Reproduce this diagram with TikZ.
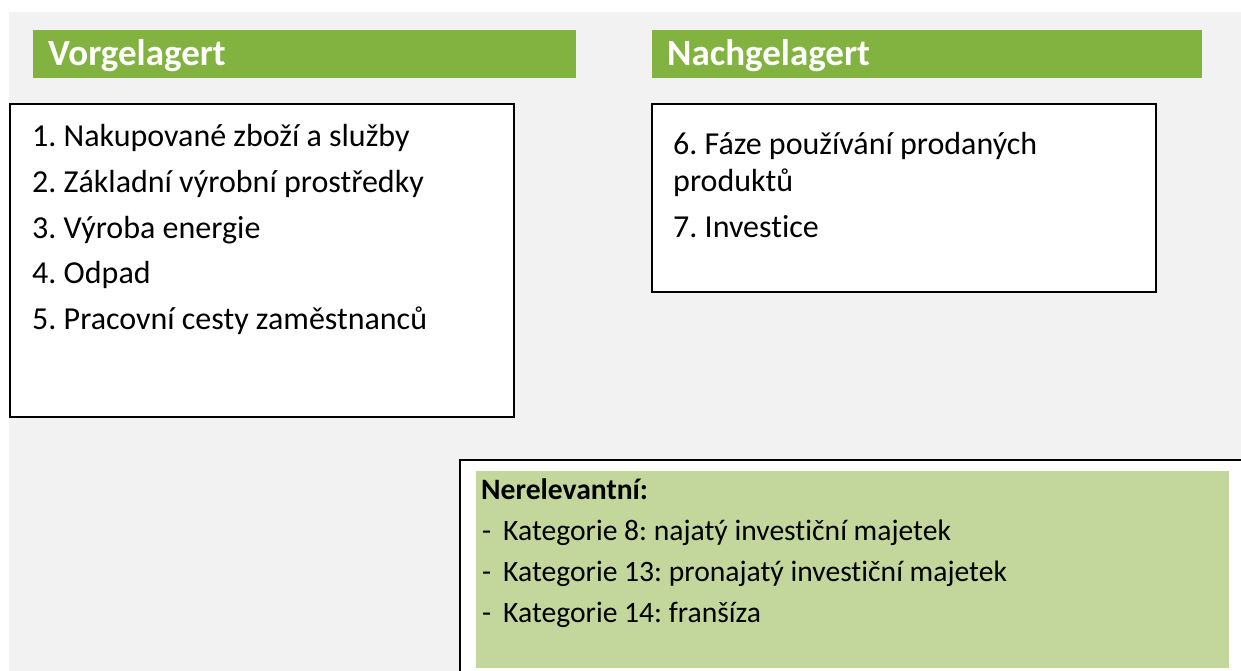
\documentclass[tikz,border=0pt]{standalone}
\usepackage{fontspec}
\setmainfont{Carlito}[Ligatures=NoCommon]
\usepackage{tikz}
\frenchspacing

\definecolor{headgreen}{HTML}{82B240}
\definecolor{panelgray}{HTML}{F2F2F2}
\definecolor{notegreen}{HTML}{C3D69B}

\tikzset{
  header/.style={fill=headgreen, minimum height=48pt, anchor=north west, inner sep=0pt, outer sep=0pt},
  headtext/.style={anchor=base west, text=white, inner sep=0pt, font=\fontsize{37}{37}\selectfont\bfseries},
  listbox/.style={draw=black, line width=2pt, fill=white, anchor=north west, inner sep=0pt, outer sep=0pt},
  item/.style={anchor=base west, inner sep=0pt, font=\fontsize{32}{38}\selectfont},
  noteitem/.style={anchor=base west, inner sep=0pt, font=\fontsize{29.6}{34}\selectfont},
}

\begin{document}
\begin{tikzpicture}[x=1pt, y=-1pt]
    \useasboundingbox (0,0) rectangle (1241,671);
    \fill[panelgray] (9,12) rectangle (1241,671);

    \node[header, minimum width=543pt] (upbar) at (33,30) {};
    \node[header, minimum width=550pt] (downbar) at (652,30) {};
    \node[headtext] (uptitle) at (48,66) {Vorgelagert};
    \node[headtext] (downtitle) at (667,66) {Nachgelagert};

    \node[listbox, minimum width=504.5pt, minimum height=313pt] (upbox) at (9.5,104) {};
    \node[listbox, minimum width=504pt, minimum height=188pt] (downbox) at (652,104) {};
    \node[listbox, minimum width=800pt, minimum height=260pt] (notebox) at (460,460) {};
    \node[fill=notegreen, anchor=north west, inner sep=0pt, minimum width=753pt, minimum height=197pt] (notefill) at (476,471) {};

    \node[item] (up1) at (32,147) {1. Nakupované zboží a služby};
    \node[item] (up2) at (32,192.5) {2. Základní výrobní prostředky};
    \node[item] (up3) at (32,238) {3. Výroba energie};
    \node[item] (up4) at (32,283.5) {4. Odpad};
    \node[item] (up5) at (32,329) {5. Pracovní cesty zaměstnanců};

    \node[item] (down6) at (673,155) {6. Fáze používání prodaných};
    \node[item] (down6b) at (673,191) {produktů};
    \node[item] (down7) at (673,237) {7. Investice};

    \node[noteitem, font=\fontsize{29.6}{34}\selectfont\bfseries] (notehead) at (481,499) {Nerelevantní:};
    \node[noteitem] (note8) at (482,540) {\makebox[21pt][l]{-}Kategorie 8: najatý investiční majetek};
    \node[noteitem] (note13) at (482,581) {\makebox[21pt][l]{-}Kategorie 13: pronajatý investiční majetek};
    \node[noteitem] (note14) at (482,622) {\makebox[21pt][l]{-}Kategorie 14: franšíza};
\end{tikzpicture}
\end{document}
